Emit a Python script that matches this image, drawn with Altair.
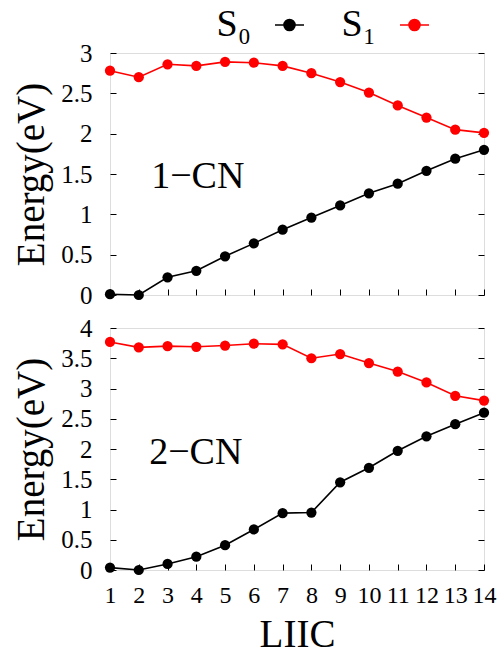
import altair as alt
import pandas as pd

# ---------------- data ----------------
liic = list(range(1, 15))
states = ["S₀", "S₁"]
state_colors = ["#000000", "#ff0000"]

cn1_s0 = [0.01, 0.00, 0.22, 0.30, 0.48, 0.64, 0.81, 0.96, 1.11, 1.26, 1.38, 1.54, 1.69, 1.80]
cn1_s1 = [2.78, 2.70, 2.86, 2.84, 2.89, 2.88, 2.84, 2.75, 2.64, 2.51, 2.35, 2.20, 2.05, 2.01]
cn2_s0 = [0.04, 0.00, 0.10, 0.22, 0.41, 0.67, 0.94, 0.95, 1.45, 1.69, 1.97, 2.21, 2.41, 2.60]
cn2_s1 = [3.77, 3.68, 3.70, 3.69, 3.71, 3.74, 3.73, 3.50, 3.57, 3.42, 3.28, 3.10, 2.88, 2.80]

panel_labels = ["1−CN", "2−CN"]
label_x = [2.43, 2.36]
label_y = [1.33, 1.76]
y_max = [3, 4]
y_ticks_1 = [0, 0.5, 1, 1.5, 2, 2.5, 3]
y_ticks_2 = [0, 0.5, 1, 1.5, 2, 2.5, 3, 3.5, 4]

FONT = "Liberation Serif"
TICK = 6
# legend glyph: short line with a dot, drawn to the right of the symbol anchor
LEGEND_SYMBOL = "M8.6,0L14.4,0M10.4,0A1.1,1.1,0,1,0,12.6,0A1.1,1.1,0,1,0,10.4,0Z"


def make_legend():
    kw = dict(
        title=None, orient="none", legendX=73, legendY=-47,
        direction="horizontal", symbolType=LEGEND_SYMBOL, symbolSize=100,
        symbolStrokeWidth=1.6, labelFont=FONT, labelFontSize=38,
        labelColor="black", labelAlign="right", labelOffset=0,
        symbolOffset=30,
    )
    try:
        return alt.Legend(columnPadding=-45, **kw)
    except Exception:
        return alt.Legend(columnPadding=0, **kw)


def make_panel(s0, s1, ymax, yticks, label, lx, ly, bottom, show_legend):
    n = len(liic)
    df = pd.DataFrame({
        "LIIC": liic + liic,
        "Energy": s0 + s1,
        "State": [states[0]] * n + [states[1]] * n,
    })
    ann = pd.DataFrame({"LIIC": [lx], "Energy": [ly], "text": [label]})

    xaxis = alt.Axis(
        values=liic, labels=bottom, title="LIIC" if bottom else None,
        orient="bottom", offset=-TICK, domain=False, ticks=True, tickSize=TICK,
        tickColor="black", tickWidth=1, grid=False,
        labelPadding=13, labelFontSize=24, labelFont=FONT, labelColor="black",
        labelOverlap=False, labelFlush=False, labelBound=False,
        titlePadding=8, titleFontSize=39, titleFont=FONT, titleFontWeight="normal",
        titleColor="black",
    )
    xscale = alt.Scale(domain=[1, 14], nice=False, zero=False)
    yscale = alt.Scale(domain=[0, ymax], nice=False, zero=True)

    yaxis_left = alt.Axis(
        values=yticks, format="~g", orient="left", offset=-TICK, domain=False,
        ticks=True, tickSize=TICK, tickColor="black", tickWidth=1, grid=False,
        labelPadding=18, labelFontSize=25, labelFont=FONT, labelColor="black",
        labelFlush=False, labelOverlap=False,
        title="Energy(eV)", titlePadding=9, titleFontSize=39, titleFont=FONT,
        titleFontWeight="normal", titleColor="black",
    )
    yaxis_right = alt.Axis(
        values=yticks, orient="right", offset=-TICK, domain=False, labels=False,
        ticks=True, tickSize=TICK, tickColor="black", tickWidth=1, grid=False,
        title=None,
    )

    legend = make_legend() if show_legend else None

    color = alt.Color(
        "State:N", scale=alt.Scale(domain=states, range=state_colors), legend=legend
    )

    line = alt.Chart(df).mark_line(strokeWidth=1.6).encode(
        x=alt.X("LIIC:Q", scale=xscale, axis=xaxis),
        y=alt.Y("Energy:Q", scale=yscale, axis=yaxis_left),
        color=color,
        detail="State:N",
    )
    pts = alt.Chart(df).mark_point(filled=True, size=105, opacity=1).encode(
        x=alt.X("LIIC:Q", scale=xscale, axis=xaxis),
        y=alt.Y("Energy:Q", scale=yscale, axis=yaxis_right),
        color=color,
    )
    txt = alt.Chart(ann).mark_text(
        align="left", baseline="alphabetic", font=FONT, fontSize=38, color="black"
    ).encode(
        x=alt.X("LIIC:Q", scale=xscale, axis=xaxis),
        y=alt.Y("Energy:Q", scale=yscale, axis=None),
        text="text:N",
    )
    return alt.layer(line, pts, txt).resolve_axis(y="independent").properties(
        width=374, height=242
    )


top = make_panel(cn1_s0, cn1_s1, y_max[0], y_ticks_1, panel_labels[0],
                 label_x[0], label_y[0], bottom=False, show_legend=True)
bot = make_panel(cn2_s0, cn2_s1, y_max[1], y_ticks_2, panel_labels[1],
                 label_x[1], label_y[1], bottom=True, show_legend=False)

chart = alt.vconcat(top, bot, spacing=6).resolve_scale(color="independent").properties(
    padding={"left": 12, "top": 5, "right": 5, "bottom": 5}
).configure_view(stroke="black", strokeWidth=1.5).configure(background="white")

chart.save("out.html", embed_options={"renderer": "svg", "actions": False})
